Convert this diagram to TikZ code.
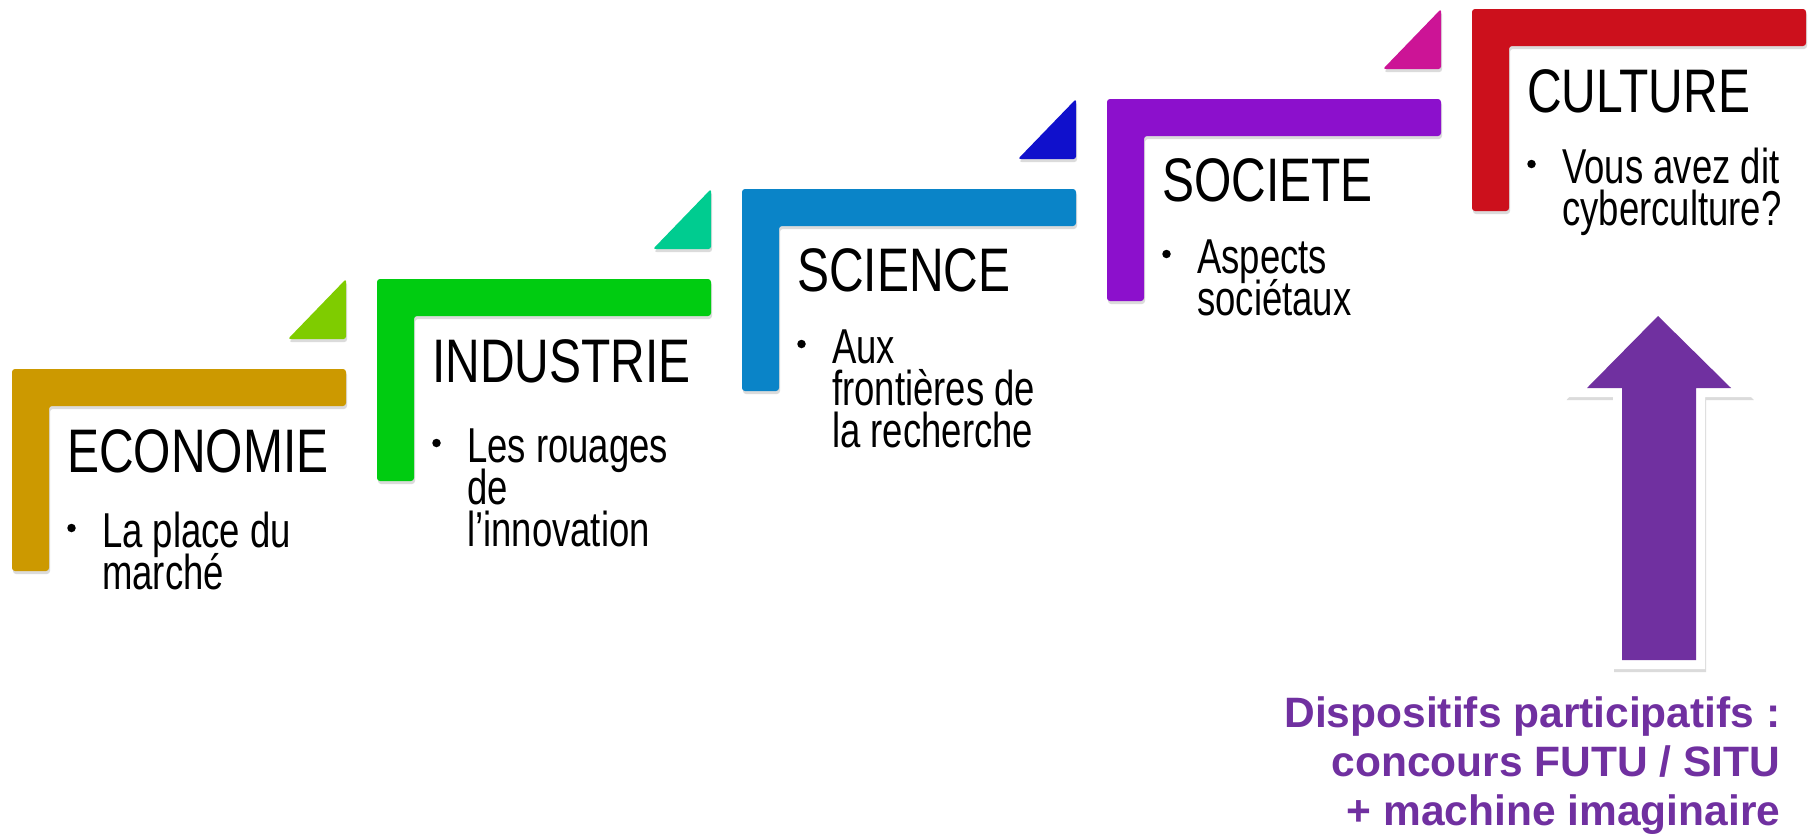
\documentclass[tikz,border=0pt]{standalone}
\usepackage{fontspec}
\setmainfont{Liberation Sans}
\newfontfamily\titlefont[FakeStretch=0.78]{Liberation Sans}
\newfontfamily\bodyfont[FakeStretch=0.745]{Liberation Sans}
\definecolor{cEco}{HTML}{CC9900}
\definecolor{cTriA}{HTML}{7FCC00}
\definecolor{cInd}{HTML}{00CC11}
\definecolor{cTriB}{HTML}{00CC90}
\definecolor{cSci}{HTML}{0A84C8}
\definecolor{cTriC}{HTML}{1010CC}
\definecolor{cSoc}{HTML}{8C10CC}
\definecolor{cTriD}{HTML}{CC1496}
\definecolor{cCul}{HTML}{CC101C}
\definecolor{cArrow}{HTML}{7030A0}
\tikzset{
  shade gray/.style={fill=black!14, draw=none},
  titletext/.style={anchor=base west, inner sep=0pt, font=\titlefont\fontsize{61.5}{61.5}\selectfont},
  bodytext/.style={anchor=base west, inner sep=0pt, font=\bodyfont\fontsize{49}{42}\selectfont},
  bulletdot/.style={circle, fill=black, inner sep=0pt, minimum size=8.5pt},
  notetext/.style={anchor=base east, inner sep=0pt, text=cArrow, font=\bfseries\fontsize{42.5}{49}\selectfont},
}
% L-shaped bracket of step #1 (index), style #2
\newcommand\stairbracket[2]{%
  \pgfmathsetmacro\Lx{12+365*#1}%
  \pgfmathsetmacro\Ty{369-90*#1}%
  \pgfmathsetmacro\Rx{346+365*#1}%
  \pgfmathsetmacro\By{571-90*#1}%
  \path[#2, rounded corners=3pt] (\Lx,\Ty) -- (\Rx,\Ty) -- (\Rx,\Ty+37) -- (\Lx+37,\Ty+37) -- (\Lx+37,\By) -- (\Lx,\By) -- cycle;%
}
% small triangle above the end of step #1
\newcommand\stairtri[2]{%
  \pgfmathsetmacro\Rx{346+365*#1}%
  \pgfmathsetmacro\Ty{279-90*#1}%
  \path[#2, rounded corners=2.5pt] (\Rx-58,\Ty+60) -- (\Rx,\Ty+60) -- (\Rx,\Ty) -- cycle;%
}
\newcommand\arrowpath{(1658,316) -- (1731,388) -- (1696,388) -- (1696,660) -- (1622,660) -- (1622,388) -- (1587,388) -- cycle}
\begin{document}
\begin{tikzpicture}[x=1pt,y=-1pt]
\useasboundingbox (0,0) rectangle (1810,835);
% shadows
\begin{scope}[shift={(1,3)}]
  \foreach \i in {0,...,4} {\stairbracket{\i}{shade gray}}
  \foreach \i in {0,...,3} {\stairtri{\i}{shade gray}}
  \draw[black!14, fill=black!14, line width=18pt, line join=miter] \arrowpath;
\end{scope}
% brackets
\stairbracket{0}{fill=cEco}
\stairbracket{1}{fill=cInd}
\stairbracket{2}{fill=cSci}
\stairbracket{3}{fill=cSoc}
\stairbracket{4}{fill=cCul}
% triangles
\stairtri{0}{fill=cTriA}
\stairtri{1}{fill=cTriB}
\stairtri{2}{fill=cTriC}
\stairtri{3}{fill=cTriD}
% titles
\node[titletext] (tEco) at (67,472) {ECONOMIE};
\node[titletext] (tInd) at (432,382) {INDUSTRIE};
\node[titletext] (tSci) at (797,291) {SCIENCE};
\node[titletext] (tSoc) at (1162,201) {SOCIETE};
\node[titletext] (tCul) at (1527,112) {CULTURE};
% bullets
\node[bulletdot] (dEco) at (71.5,528) {};
\node[bulletdot] (dInd) at (436.5,443) {};
\node[bulletdot] (dSci) at (801.5,344) {};
\node[bulletdot] (dSoc) at (1166.5,254) {};
\node[bulletdot] (dCul) at (1531.5,164) {};
\node[bodytext] (bEco) at (102,547) {\vtop{\lineskiplimit=-\maxdimen\hbox{La place du}\hbox{marché}}};
\node[bodytext] (bInd) at (467,462) {\vtop{\lineskiplimit=-\maxdimen\hbox{Les rouages}\hbox{de}\hbox{l’innovation}}};
\node[bodytext] (bSci) at (832,363) {\vtop{\lineskiplimit=-\maxdimen\hbox{Aux}\hbox{frontières de}\hbox{la recherche}}};
\node[bodytext] (bSoc) at (1197,273) {\vtop{\lineskiplimit=-\maxdimen\hbox{Aspects}\hbox{sociétaux}}};
\node[bodytext] (bCul) at (1562,183) {\vtop{\lineskiplimit=-\maxdimen\hbox{Vous avez dit}\hbox{cyberculture?}}};
% arrow
\draw[white, fill=white, line width=18pt, line join=miter] \arrowpath;
\fill[cArrow] \arrowpath;
% note
\node[notetext] (note) at (1781,727) {\vtop{\lineskiplimit=-\maxdimen
  \hbox to 0pt{\hss Dispositifs participatifs :}%
  \hbox to 0pt{\hss concours FUTU / SITU}%
  \hbox to 0pt{\hss + machine imaginaire}}};
\end{tikzpicture}
\end{document}
